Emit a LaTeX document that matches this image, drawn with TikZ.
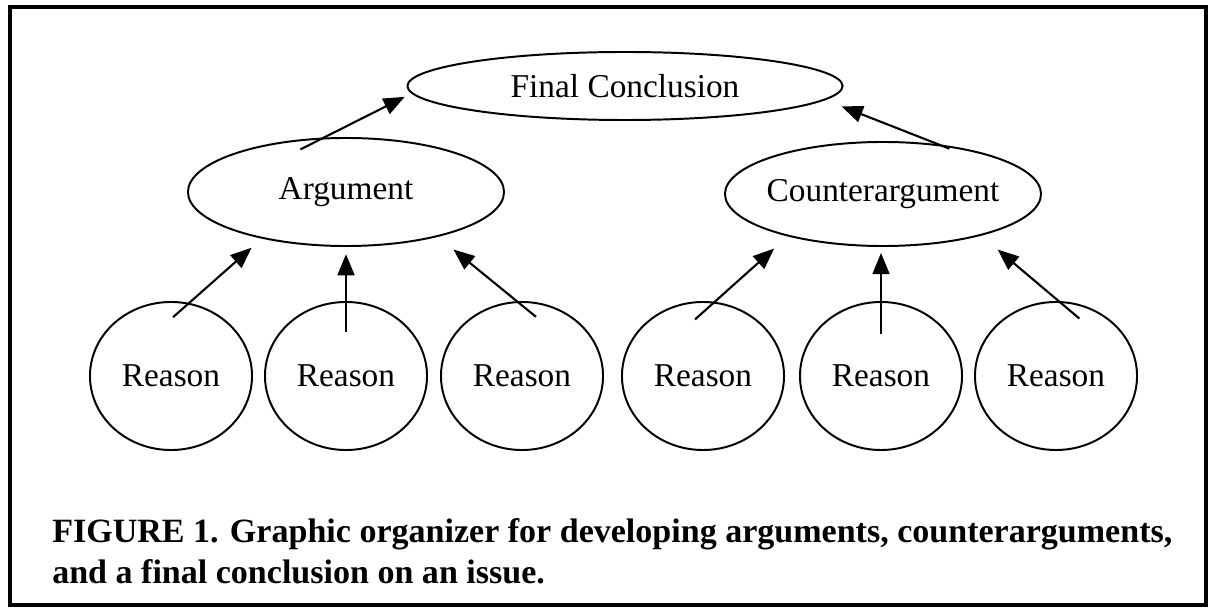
\documentclass[tikz,border=0pt]{standalone}
\usepackage{fontspec}
\setmainfont{Liberation Serif}
\usepackage{tikz}
\usetikzlibrary{arrows.meta,shapes.geometric}
\tikzset{oval/.style={ellipse,draw,line width=1.4pt,inner sep=0pt,inner xsep=-5pt,font=\fontsize{23.7}{28}\selectfont},
reason/.style={oval,minimum width=4.05cm,minimum height=3.7cm},
link/.style={->,line width=1.5pt}}
\begin{document}
\begin{tikzpicture}[x=0.025cm,y=-0.025cm,>={Triangle[length=15pt,width=12pt]}]
\useasboundingbox(0,0)rectangle(1210,609);
\draw[line width=2.2pt](10,7)rectangle(1206,605);
\node[oval,minimum width=10.875cm,minimum height=1.7cm](fin)at(625,86){Final Conclusion};
\node[oval,minimum width=7.9cm,minimum height=2.7cm](arg)at(346,192){Argument};
\node[oval,minimum width=7.9cm,minimum height=2.6cm](ctr)at(883,194){Counterargument};
\foreach \x[count=\i] in {171,346,522,703,881,1056}
\node[reason](r\i)at(\x,376){Reason};
\draw[link,shorten <=-0.66cm,shorten >=0.19cm](arg.112.5)--(fin.182.4);
\draw[link,shorten <=-0.3cm,shorten >=0.44cm](ctr.42.3)--(fin.356.7);
\draw[link,shorten <=-0.54cm,shorten >=0.34cm](r1.76.5)--(arg.209.1);
\draw[link,shorten <=-0.78cm,shorten >=0.18cm](r2.north)--(arg.south);
\draw[link,shorten <=-0.62cm,shorten >=0.5cm](r3.94.6)--(arg.334);
\draw[link,shorten <=-0.66cm,shorten >=0.455cm](r4.81.6)--(ctr.204.2);
\draw[link,shorten <=-0.83cm,shorten >=0.15cm](r5.north)--(r5.north|-ctr.south);
\draw[link,shorten <=-0.68cm,shorten >=0.54cm](r6.88.8)--(ctr.337.4);
\node[anchor=north west,align=left,inner sep=0pt,font=\bfseries\fontsize{24.2}{29.5}\selectfont](cap)at(52,518)
{FIGURE 1. Graphic organizer for developing arguments, counterarguments,\\and a final conclusion on an issue.};
\end{tikzpicture}
\end{document}
